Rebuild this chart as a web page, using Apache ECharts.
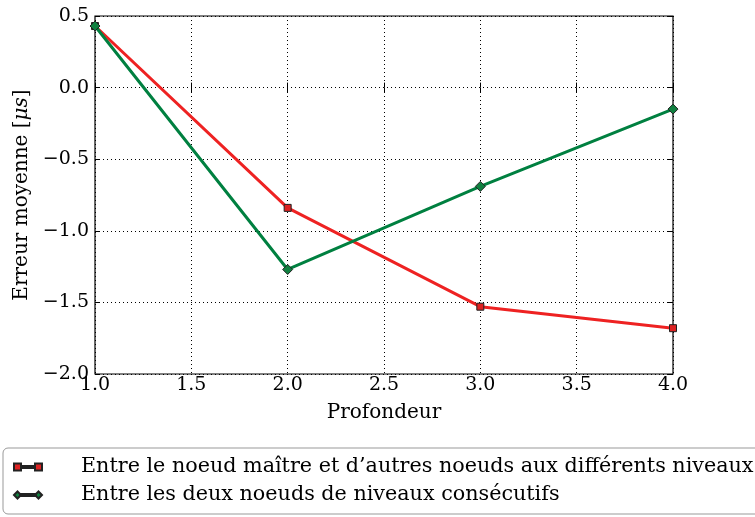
<!DOCTYPE html>
<html>
<head>
<meta charset="utf-8">
<script src="https://cdn.jsdelivr.net/npm/echarts@6/dist/echarts.min.js"></script>
<style>
  html, body { margin: 0; padding: 0; background: #fff; }
  #chart { width: 755px; height: 517px; }
</style>
</head>
<body>
<div id="chart"></div>
<script>
var profondeur = [1, 2, 3, 4];
var erreurMaitre = [0.43, -0.84, -1.53, -1.68];
var erreurConsecutifs = [0.43, -1.27, -0.69, -0.15];
var nomMaitre = 'Entre le noeud maître et d\u2019autres noeuds aux différents niveaux';
var nomConsecutifs = 'Entre les deux noeuds de niveaux consécutifs';

var serif = '"DejaVu Serif", "Liberation Serif", serif';

function fmt(v) {
  var s = Math.abs(v).toFixed(1);
  return v < 0 ? '\u2212' + s : s;
}

function pairs(xs, ys) {
  var out = [];
  for (var i = 0; i < xs.length; i++) out.push([xs[i], ys[i]]);
  return out;
}

// legend icons: marker - line - marker
var iconCarre = 'path://M0,0H7V7H0Z M7,2.5H21V4.5H7Z M21,0H28V7H21Z';
var iconLosange = 'path://M0,3.5L3.5,0L7,3.5L3.5,7Z M6,2.5H22V4.5H6Z M21,3.5L24.5,0L28,3.5L24.5,7Z';

var tickStyle = { show: true, inside: true, length: 5, lineStyle: { color: '#000' } };
var gridLine = { show: true, lineStyle: { color: '#000', type: [1, 3], width: 1 } };

var myChart = echarts.init(document.getElementById('chart'));
var option = {
  animation: false,
  textStyle: { fontFamily: serif },
  grid: {
    left: 95, top: 16, right: 82, bottom: 143,
    show: true, borderColor: '#000', borderWidth: 1.2
  },
  legend: {
    orient: 'vertical',
    left: 3, top: 448,
    itemWidth: 28, itemHeight: 7, itemGap: 6,
    padding: [8, 12, 8, 10],
    borderColor: '#999', borderWidth: 1, borderRadius: 5,
    textStyle: { fontFamily: serif, fontSize: 20.7, color: '#000', padding: [0, 0, 0, 34], lineHeight: 22 },
    data: [
      { name: nomMaitre, icon: iconCarre },
      { name: nomConsecutifs, icon: iconLosange }
    ]
  },
  xAxis: [{
    type: 'value', min: 1, max: 4, interval: 0.5,
    name: 'Profondeur', nameLocation: 'middle', nameGap: 29,
    nameTextStyle: { fontFamily: serif, fontSize: 20, color: '#000' },
    axisLine: { show: false },
    axisTick: tickStyle,
    axisLabel: { fontFamily: serif, fontSize: 19, color: '#000', margin: 2, formatter: fmt },
    splitLine: gridLine
  }, {
    type: 'value', min: 1, max: 4, interval: 0.5, position: 'top',
    axisLine: { show: false }, axisTick: tickStyle,
    axisLabel: { show: false }, splitLine: { show: false }
  }],
  yAxis: [{
    type: 'value', min: -2, max: 0.5, interval: 0.5,
    name: 'Erreur moyenne [{i|\u03bcs}]', nameLocation: 'middle', nameGap: 62,
    nameTextStyle: {
      fontFamily: serif, fontSize: 20, color: '#000',
      rich: { i: { fontFamily: serif, fontSize: 20, fontStyle: 'italic', color: '#000' } }
    },
    axisLine: { show: false },
    axisTick: tickStyle,
    axisLabel: { fontFamily: serif, fontSize: 19, color: '#000', margin: 6, formatter: fmt },
    splitLine: gridLine
  }, {
    type: 'value', min: -2, max: 0.5, interval: 0.5, position: 'right',
    axisLine: { show: false }, axisTick: tickStyle,
    axisLabel: { show: false }, splitLine: { show: false }
  }],
  series: [
    {
      name: nomMaitre, type: 'line',
      data: pairs(profondeur, erreurMaitre),
      symbol: 'rect', symbolSize: 7,
      lineStyle: { color: '#ee2222', width: 3 },
      itemStyle: { color: '#dd2222', borderColor: '#222', borderWidth: 1 },
      z: 3
    },
    {
      name: nomConsecutifs, type: 'line',
      data: pairs(profondeur, erreurConsecutifs),
      symbol: 'diamond', symbolSize: 10,
      lineStyle: { color: '#008040', width: 3 },
      itemStyle: { color: '#108040', borderColor: '#222', borderWidth: 1 },
      z: 4
    }
  ]
};
myChart.setOption(option);
</script>
</body>
</html>
